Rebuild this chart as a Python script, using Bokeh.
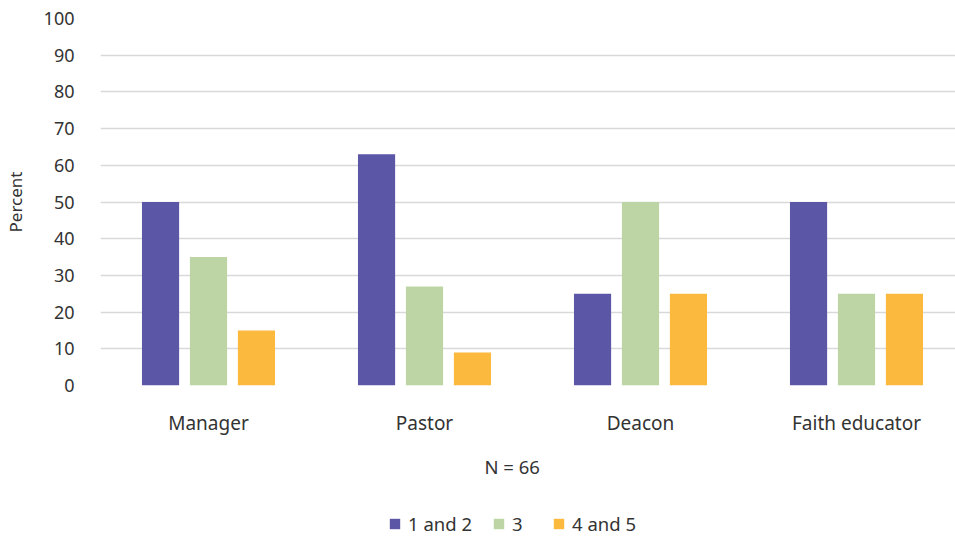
from bokeh.plotting import figure
from bokeh.layouts import column
from bokeh.models import ColumnDataSource, Legend, LegendItem, Title, FixedTicker, Range1d
from bokeh.embed import file_html
from bokeh.resources import INLINE

categories = ["Manager", "Pastor", "Deacon", "Faith educator"]
series_names = ["1 and 2", "3", "4 and 5"]
vals_1_2 = [50, 63, 25, 50]
vals_3 = [35, 27, 50, 25]
vals_4_5 = [15, 9, 25, 25]
colors = ["#5B56A5", "#BDD5A5", "#FBB93D"]
y_ticks = [0, 10, 20, 30, 40, 50, 60, 70, 80, 90, 100]
note = "N = 66"

FONT = "Noto Sans"
TXT = "#333333"

p = figure(width=955, height=500, output_backend="svg", toolbar_location=None,
           x_range=Range1d(0, 855 / 216), y_range=Range1d(0, 100))
p.min_border_left = 100
p.min_border_right = 0
p.min_border_top = 18
p.min_border_bottom = 115
p.outline_line_color = None
p.background_fill_color = "white"

centers = [i + 0.5 for i in range(len(categories))]
offsets = [-0.222, 0.0, 0.222]
bw = 0.172
for vals, off, col in zip([vals_1_2, vals_3, vals_4_5], offsets, colors):
    src = ColumnDataSource(dict(x=[c + off for c in centers], top=vals))
    p.vbar(x="x", top="top", bottom=0, width=bw, source=src,
           fill_color=col, line_color=None)

# grid
p.xgrid.grid_line_color = None
p.ygrid.ticker = FixedTicker(ticks=y_ticks)
p.ygrid.grid_line_color = "#D9D9D9"
p.ygrid.grid_line_width = 1.5
p.ygrid.level = "underlay"

# y axis
p.yaxis.ticker = FixedTicker(ticks=y_ticks)
p.yaxis.axis_line_color = None
p.yaxis.major_tick_line_color = None
p.yaxis.minor_tick_line_color = None
p.yaxis.major_label_standoff = 20
p.yaxis.major_label_text_font = FONT
p.yaxis.major_label_text_font_size = "18px"
p.yaxis.major_label_text_color = TXT
p.yaxis.axis_label = "Percent"
p.yaxis.axis_label_text_font = FONT
p.yaxis.axis_label_text_font_size = "17px"
p.yaxis.axis_label_text_font_style = "normal"
p.yaxis.axis_label_text_color = TXT
p.yaxis.axis_label_standoff = 14

# x axis
p.xaxis.ticker = FixedTicker(ticks=centers)
p.xaxis.major_label_overrides = {c: name for c, name in zip(centers, categories)}
p.xaxis.axis_line_color = None
p.xaxis.major_tick_line_color = None
p.xaxis.minor_tick_line_color = None
p.xaxis.major_label_standoff = 18
p.xaxis.major_label_text_font = FONT
p.xaxis.major_label_text_font_size = "19px"
p.xaxis.major_label_text_color = TXT

# N note below the axis
p.add_layout(Title(text=note, align="left", offset=384, standoff=27,
                   text_font=FONT, text_font_size="18.5px", text_font_style="normal",
                   text_color=TXT), "below")

# legend strip
lg = figure(width=955, height=36, output_backend="svg", toolbar_location=None,
            x_range=Range1d(0, 1), y_range=Range1d(0, 1),
            x_axis_type=None, y_axis_type=None)
lg.min_border_left = 0
lg.min_border_right = 0
lg.min_border_top = 0
lg.min_border_bottom = 0
lg.outline_line_color = None
lg.xgrid.visible = False
lg.ygrid.visible = False
items = []
for name, col in zip(series_names, colors):
    # placeholder bars outside the visible range, used only for legend swatches
    r = lg.vbar(x=[5], top=[1], bottom=[0], width=0.1, fill_color=col, line_color=None)
    items.append(LegendItem(label=name, renderers=[r]))
legend = Legend(items=items, orientation="horizontal", location=(288, 0))
legend.border_line_color = None
legend.background_fill_alpha = 0
legend.padding = 0
legend.margin = 0
legend.spacing = 20
legend.glyph_width = 13
legend.glyph_height = 13
legend.label_standoff = 7
legend.label_text_font = FONT
legend.label_text_font_size = "18.5px"
legend.label_text_color = TXT
lg.add_layout(legend, "center")

layout = column(p, lg, spacing=0)
open("out.html", "w").write(file_html(layout, INLINE))
